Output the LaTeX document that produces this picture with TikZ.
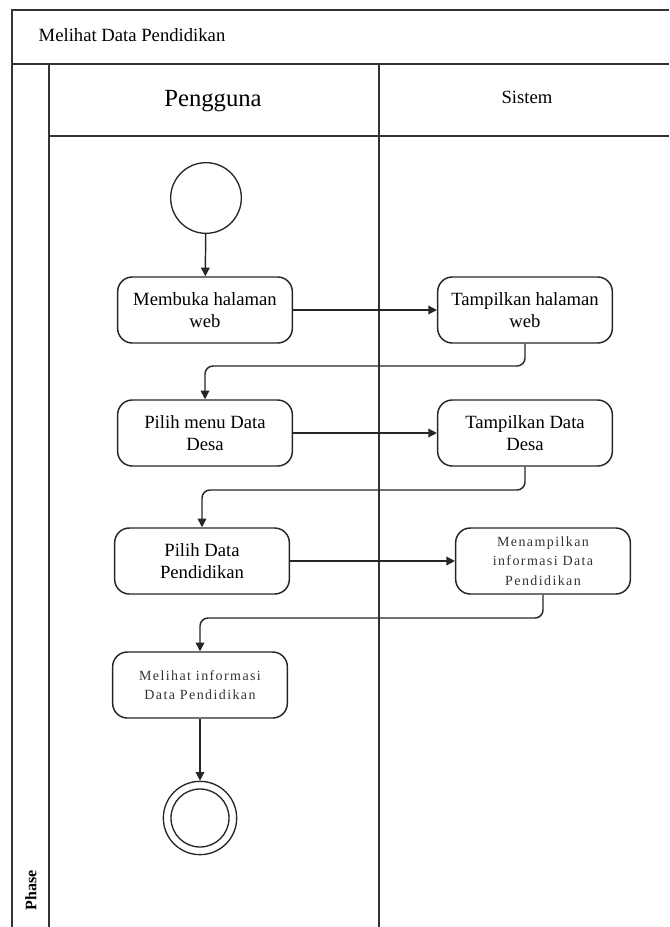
\documentclass[tikz,border=0pt]{standalone}
\usepackage{fontspec}
\setmainfont{Liberation Serif}
\newfontfamily\spaced[LetterSpace=10]{Liberation Serif}
\usepackage{tikz}
\usetikzlibrary{positioning, arrows.meta}
\colorlet{LineGrey}{black!80}
\colorlet{SoftText}{black!80}
\tikzset{
  lane/.style={draw=LineGrey, line width=1.3pt},
  act/.style={draw=black!85, line width=1.1pt, rounded corners=11pt, minimum width=131pt,
    minimum height=49.5pt, inner sep=2pt, align=center, font=\fontsize{14}{16}\selectfont},
  actsmall/.style={act, font=\spaced\fontsize{10.5}{14.5}\selectfont, text=SoftText},
  startnode/.style={circle, draw=black!85, line width=1pt, minimum size=53pt, inner sep=0pt},
  endnode/.style={circle, draw=black!85, line width=1pt, minimum size=55pt, inner sep=0pt},
  endinner/.style={circle, draw=black!85, line width=1pt, minimum size=43.5pt, inner sep=0pt},
  flow/.style={-{Triangle[length=6.5pt,width=6.5pt]}, line width=1.1pt, black!85, rounded corners=6pt},
}

\begin{document}
\begin{tikzpicture}[x=0.75pt, y=-0.75pt]
  \useasboundingbox (0,0) rectangle (669,927);
  % frame and lanes
  \draw[lane] (669,10) -- (12,10) -- (12,927);
  \draw[lane] (12,64) -- (669,64);
  \draw[lane] (49,64) -- (49,927);
  \draw[lane] (49,136) -- (669,136);
  \draw[lane] (379,64) -- (379,927);
  \node[anchor=west, font=\fontsize{14}{16}\selectfont] (title) at (34,35) {Melihat Data Pendidikan};
  \node[font=\fontsize{18.5}{20}\selectfont] (pengguna) at (213,101) {Pengguna};
  \node[font=\fontsize{14}{16}\selectfont] (sistem) at (527,97) {Sistem};
  \node[rotate=90, font=\bfseries\fontsize{12}{14}\selectfont] (phase) at (31,890) {Phase};

  % activities
  \node[startnode] (start) at (206,198) {};
  \node[act] (buka) at (205,310) {Membuka halaman\\web};
  \node[act] (tampilweb) at (525,310) {Tampilkan halaman\\web};
  \node[act] (menu) at (205,433) {Pilih menu Data\\Desa};
  \node[act] (tampildesa) at (525,433) {Tampilkan Data\\Desa};
  \node[act] (pilihdata) at (202,561) {Pilih Data\\Pendidikan};
  \node[actsmall] (tampilinfo) at (543,561) {Menampilkan\\informasi Data\\Pendidikan};
  \node[actsmall] (lihatinfo) at (200,685) {Melihat informasi\\Data Pendidikan};
  \node[endnode] (end) at (200,818) {};
  \node[endinner] (endin) at (end) {};

  % flows
  \draw[flow] (start) -- (buka);
  \draw[flow] (buka) -- (tampilweb);
  \draw[flow] (tampilweb.south) |- (365,366) -| (menu.north);
  \draw[flow] (menu) -- (tampildesa);
  \draw[flow] (tampildesa.south) |- (365,490) -| (pilihdata.north);
  \draw[flow] (pilihdata) -- (tampilinfo);
  \draw[flow] (tampilinfo.south) |- (370,618) -| (lihatinfo.north);
  \draw[flow] (lihatinfo) -- (end);
\end{tikzpicture}
\end{document}
